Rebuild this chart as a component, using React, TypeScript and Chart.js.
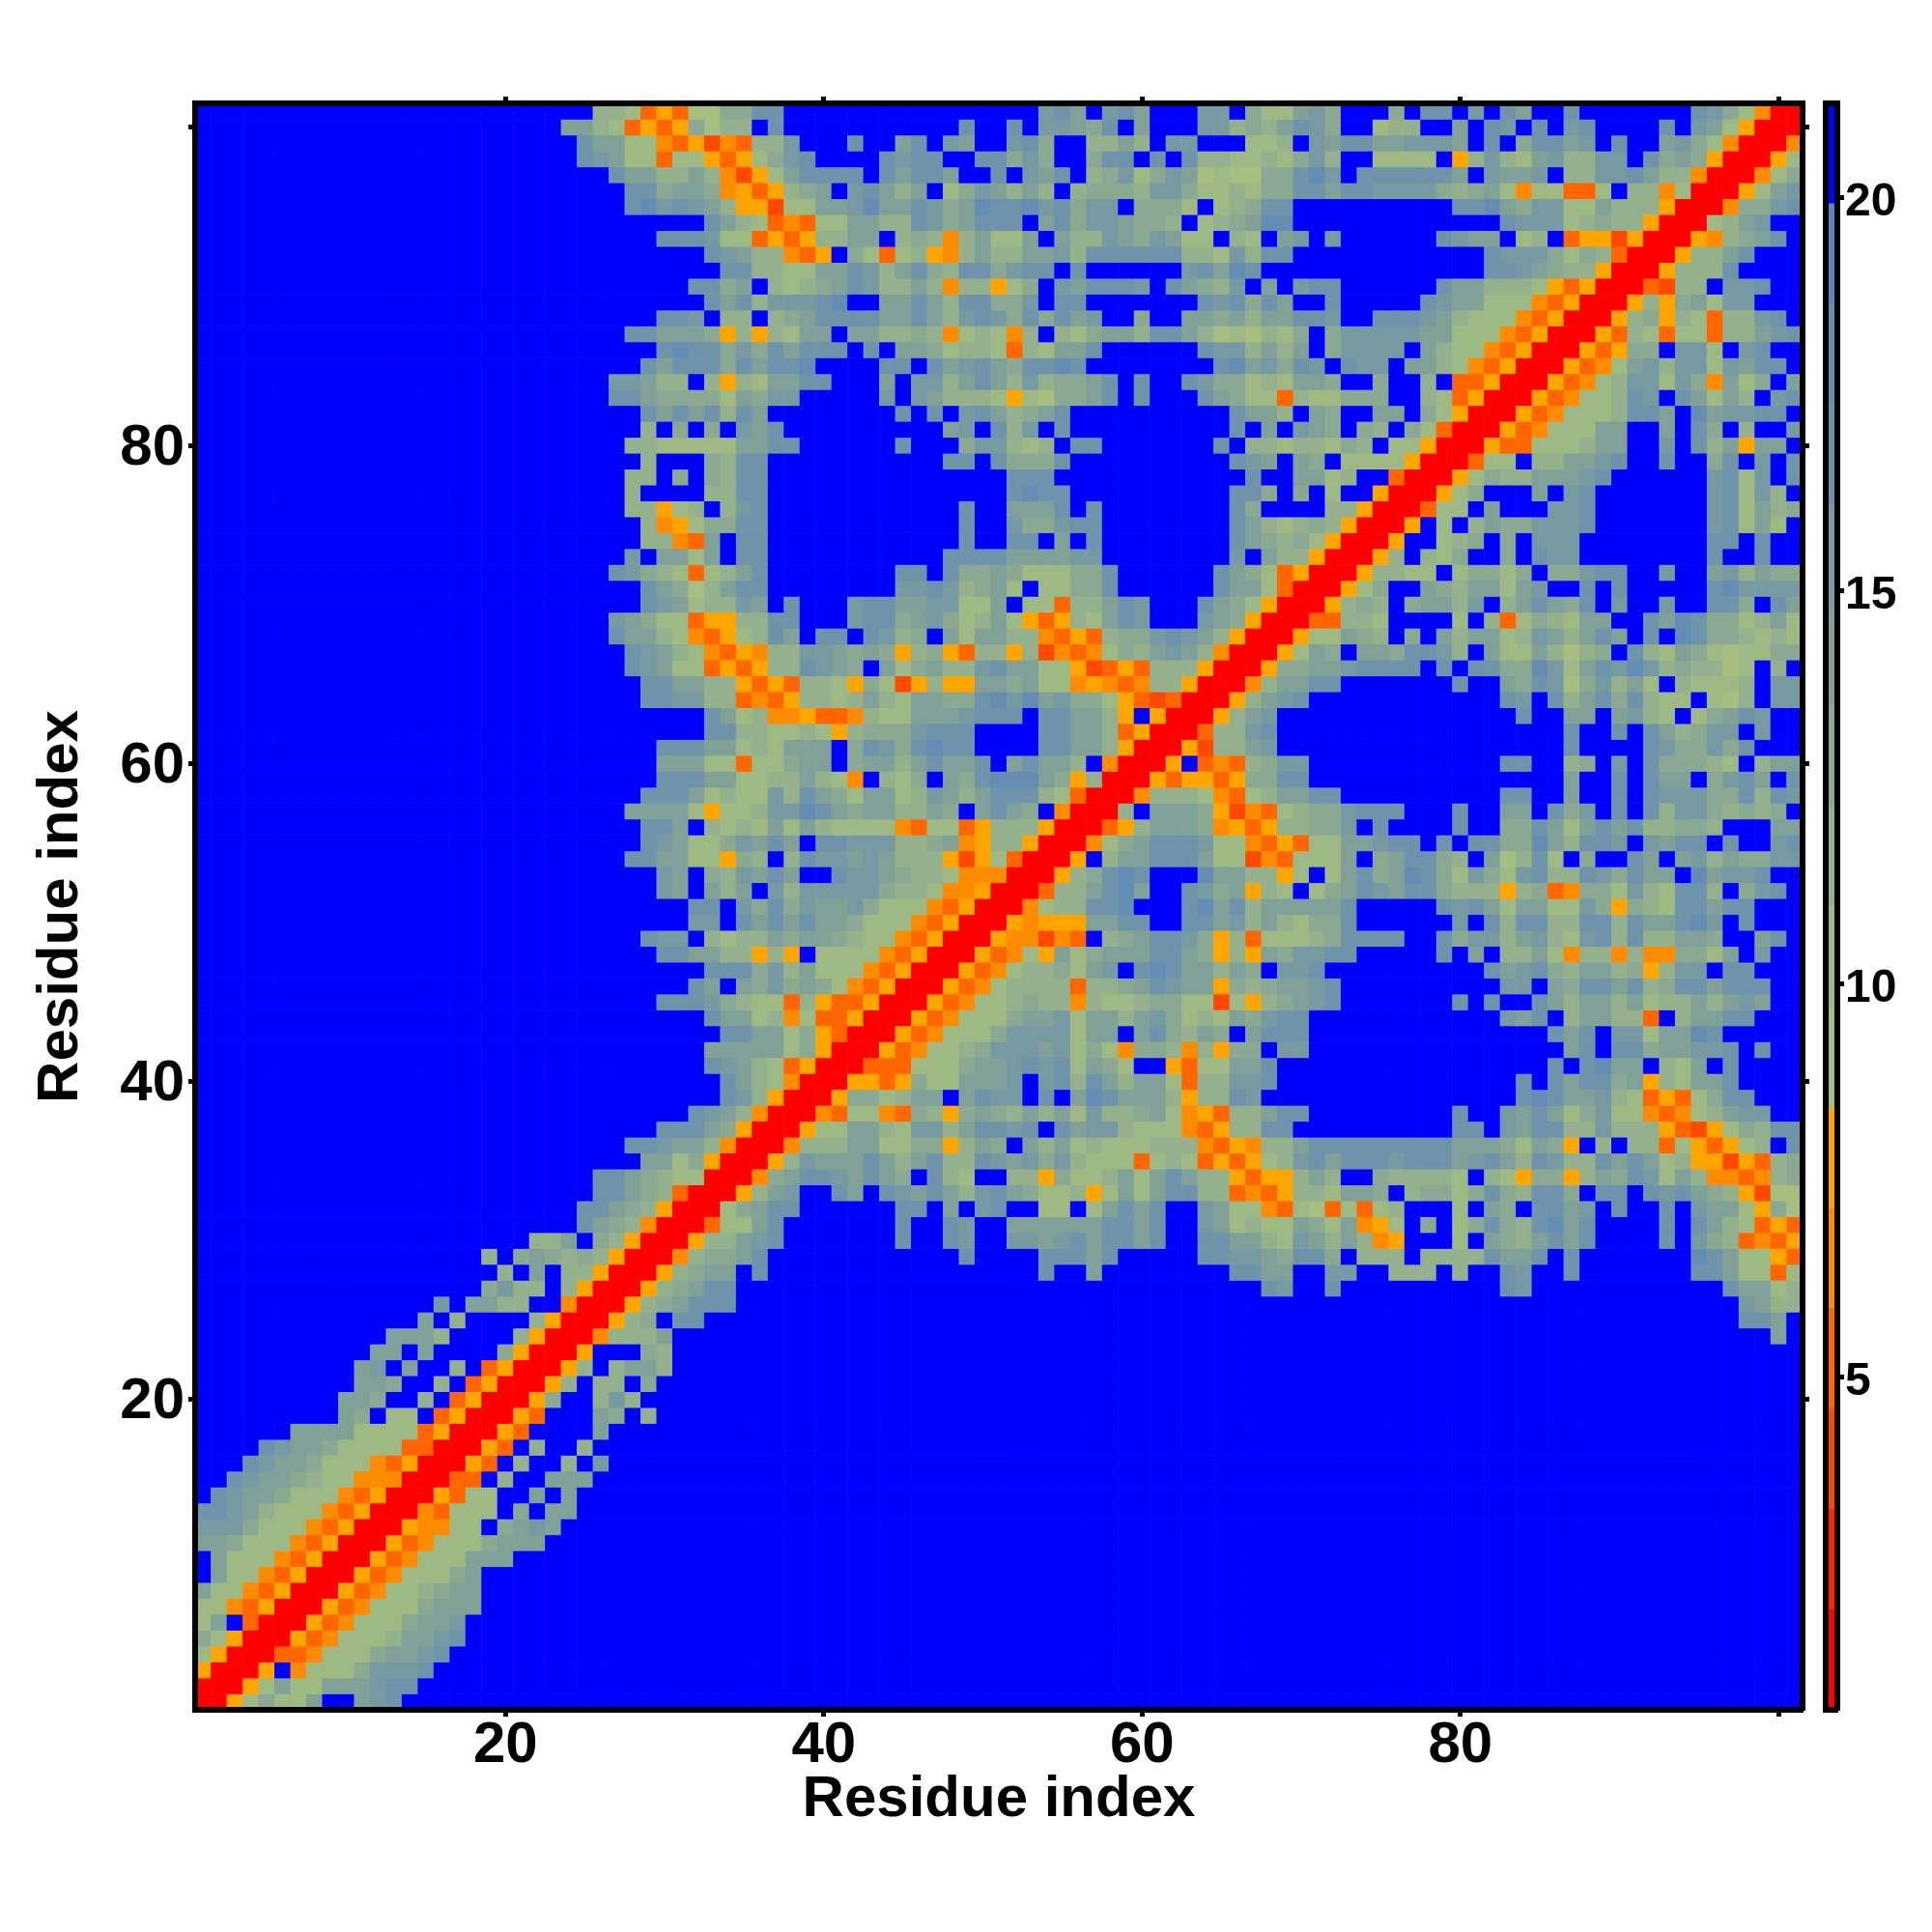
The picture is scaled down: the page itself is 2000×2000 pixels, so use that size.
import React, { useEffect, useRef } from "react";
import { Chart, registerables } from "chart.js";

Chart.register(...registerables);

// Distance-map cells as hex colour-level digits (0 = closest ... f = beyond the last band).
// Each block gives rows from the top row down, starting at a given residue column.
// The map is symmetric, so only the cells with column <= row are kept.
const blockF_col1_row31 = [
  "ffffffffff ffffffffff ffffcb9840 0",
  "ffffffffff ffffffffff f88af98500 0",
  "ffffffffff ffffffff8f 9a98885000 4",
  "ffffffffff fffffffff8 faf8850005 8",
  "ffffffffff ffffffff9b 88f8500058 a",
  "ffffffffff fffffbfaa8 8ff400058a b",
  "ffffffffff ffffaf8fff f85000588f c",
  "ffffffffff ffaaa8ffff 850004898a f",
  "ffffffffff faafaffff9 50005fff98 f",
  "ffffffffff abfaff8f35 00058f8aa8 f",
  "ffffffffff aa9ff8f350 0058f88f9f f",
  "fffffffffa a9ff8f3500 059ff8a8ff f",
  "fffffffffa 9f77f35000 53fffa9f8f f",
  "ffffffaaaa 7777350005 3ffffaffff f",
  "ffffcbaa97 7773300053 f8ff8fffff f",
  "fffcbaa977 743500053f 8ff8faffff f",
  "ffcbaa9877 44400033f8 ffaaafffff f",
  "fcbaa97774 350005377f f8faffffff f",
  "ccba877743 500043777f 8fabffffff f",
  "bbb9777435 00054477f9 aabfffffff f",
  "aa97774350 005347778a abffffffff f",
  "fa77743500 05347779aa ffffffffff f",
  "fa77435000 5347778aff ffffffffff f",
  "a774350005 347789aaff ffffffffff f",
  "7743500053 4777aaabff ffffffffff f",
  "7af3000534 777aabcfff ffffffffff f",
  "9750005347 779aabdfff ffffffffff f",
  "7500033477 79aacdffff ffffffffff f",
  "50005f4777 9aabdfffff ffffffffff f",
  "00057977aa bbcdffffff ffffffffff f",
  "0057977aff bcdfffffff ffffffffff f",
];

const blockA_col25_row101 = [
  "f887353669 9ccfffffff fffffffffb c",
  "a873535968 8fcfffffff ffffcffcfb b",
  "caa7743524 388bfffcff acfbaffbc9 f",
  "cba7737753 579bcffffc bccffcc9b9 f",
  "ffcaa88a84 257accccfc accaffcfba c",
  "fffcc9aa94 53589afbca 8af79ba8a8 f",
  "fffcdbcba8 55277aabda acb9adccdb c",
  "ffffffffca 8734377aa8 8cb9acccfa c",
  "fffffcccb7 7353588aaf 89848a77af a",
  "ffffffffcb a88435f973 78548a88aa b",
  "fffffffffc c8877aacb8 ac98cc9bcc f",
  "fffffffcc9 af8789acb8 8a8488579f b",
  "ffffffffca c8bbbcdffa aca8cc99bf c",
  "fffffccbf8 8f89acccca aca8bcb9c9 c",
  "fffccaaa95 8587aafaa8 898478748f 8",
  "fffffcdcc9 b9cacccfcf aa97887387 a",
  "ffffcaccc9 caccdffffc cfcabca9cc d",
  "ffbba88f85 87aaccfffa fbb8aca8b8 9",
  "ffcca99997 a9bbfffffb fba8887576 9",
  "ffffcacac8 caffffffff cfcfbca89a c",
  "ffff8f9f9f bacfffffff fffabfc8bf c",
  "fff8877777 aaccffffff cfff9bb878 f",
  "ffff8fff98 ccffffffff fffccfc999 c",
  "fff88f9f98 ccffffffff fffffffccc f",
  "fff8ffff88 ccffffffff fffffffcdc c",
  "fff88578f8 bcffffffff ffffcffaaa c",
  "ffff845799 ccffffffff ffffcffb99 b",
  "ffff8843af ccffffffff ffffcffccf a",
  "fffbfaa7af ccffffffff fffccccaaa a",
  "ffcb987378 acffffffff ccfc99a977 7",
  "ffffca968a ccffffffff bbcb89a7f7 7",
];

const blockB_col56_row101 = [
  "afbcafffbb f977ab9fff 9fccfbfcaf f",
  "a9cfafffbb 898acb9ff7 88ffafcbfc f",
  "f88a8fbbff f778fbacca abbbafcf9c c",
  "f9ccfcfc88 77879b8ff7 777f58b87a b",
  "f89b79ba67 6699cdbfcc ccccafbaab f",
  "89998bb977 8799ccaccb bbb989a747 7",
  "9bbf9997f7 89ccffffff ffffccda9b b",
  "9bba998f78 9addffffff fffffffcbb b",
  "88ba9ba77f 87fabfbfff fffcbaaf78 f",
  "8cccccc887 b8ccffffff ffffffcbbb 9",
  "cffffffbca dcffffffff ffffffccba 9",
  "acccbfca98 bfafbccfff fffcaa8887 5",
  "cfffffffcb c9caffcfff ffcbaa7774 3",
  "abff9ffaa9 a8aaccbffc ccba877743 5",
  "79aa8cca86 76879f9bbb bbaa777435 0",
  "acffffffcb b8a8af9bbb bfa8774350 0",
  "cffffffffc dab9cbfcbb faa8743500 0",
  "9acfcffcb9 9787aa9ff9 ff8f335000 5",
  "9acfcfffca 9773877999 ff87350005 3",
  "ffffffffff caa8fa9ffa af97500053 4",
  "ffffffffff cfafba9f98 f973000534 7",
  "ccfffffffc f88788798f 7750005337 7",
  "ffffffffff cbafa9f777 75000377f8 9",
  "ffffffffff fcffaa78ff 300057988a a",
  "ffffffffff cc9f9f7ff5 00058afff9 f",
  "fcffffffff c9ffff8850 00377fafff c",
  "ccffffffff ca87898500 05f7f8a88b b",
  "fcffffffff ca98975000 5ff779fbfc c",
  "bbffffffff bfa8850005 7f78affafc c",
  "99cffffffc a973500058 888f7aa8af a",
  "99cffffffc aa73000588 ff999aaaab f",
];

const blockC_col87_row101 = [
  "cfffffffcb97400",
  "bcffffcfba75000",
  "abfcffab9740004",
  "88bbfc9a9500057",
  "88bbca88400048a",
  "337f884700057ac",
  "77a8885000489bc",
  "78988500079abff",
  "355250005499acf",
  "7983000588adfff",
  "8850005899cffff",
  "350003288fabcff",
  "50005859a8abfff",
  "000589598388bcf",
  "005388388388bcc",
];

const blockD_col25_row70 = [
  "ffffcba788 bafcfffbcc aabb77af77 3",
  "ffba977355 88ccfffbcc 9ab978a753 5",
  "ffcaa87435 78cafccfcb 89fa7aa884 3",
  "fffcba8743 5488bba9a9 5895388582 4",
  "fffcba7735 3588cba9fa 79a88bcaa7 7",
  "ffffccaa88 5353887597 25855aa9a7 7",
  "ffffccbb88 34358878a8 7aa99cdbda b",
  "ffffffffca 7844533487 7aaabcccfc c",
  "ffffffffcc 8877875899 9bcccffffc c",
  "fffffcccaa 787aaaf9cb 9cdccffffc c",
  "fffffaaa77 3779aaf9aa 8acaacfaca a",
  "fffffcccaa 7788a874f8 79fa9cddda 9",
  "ffffccca78 77b8ca97aa 78ba8accc8 7",
  "fffaaaa757 78bbdca9aa 88a9faca9f 4",
  "ffffccaf87 87a7a87777 4377358885 0",
  "ffffcba779 bacafccbbb 889a458850 0",
  "fffccaa775 98f8cbbaba 8885257300 0",
  "fffffbaf98 bacaffcbba 9887444000 5",
  "fffffbafa8 afb8bbbbb9 8874450003 8",
  "fffffffccf b9c9baab97 7743500047 9",
  "fffffffbbf cacacaa977 7435000545 5",
  "ffffcbbf87 88a9aa9877 4350005442 4",
  "fffffccaa8 8585f77774 3500053485 8",
  "ffffffffcc c9b8a77743 5000534888 a",
  "fffffffcaf a9b9a97435 0005348888 8",
  "fffffcccb9 8773853350 0053488897 8",
  "ffffffffca a784733500 05347779ab b",
  "fffffffffc caa7953000 5347779bcb b",
  "ffffffffaa aaa7950005 347779bbcb b",
  "ffffffffcb a873500033 377889acdb b",
  "fffffffffc a874000553 5878aaacfa c",
];

const blockE_col56_row70 = [
  "88acbfffca97500",
  "87acbfffba95000",
  "53899bcba850005",
  "34798aba8400058",
  "523538885000589",
  "4543488500048aa",
  "997532300058acc",
  "aa85f500058acff",
  "aa835000388acff",
  "aa850005288acff",
  "8f40005f3438abb",
  "580005355359acc",
  "3000488974388ab",
  "0007faaa9524388",
  "00357aaa9453588",
];

const blockG_col25_row39 = [
  "fffffffffcb85000",
  "fffffffcba840004",
  "fffffccca9500058",
  "fffccbaa84000489",
  "ffffaa79500057ab",
  "fcca9877000488cc",
  "fcca98300058abff",
  "cca98500079accff",
  "ca984000377acfff",
  "f985000589abcfff",
  "9850004899acffff",
  "85000589aafcffff",
  "5000589accffffff",
  "000589acccffffff",
  "00588fccffffffff",
  "04898affffffffff",
];

const blockH_col24_row100 = ["a"];

const RESIDUES = 101;
const BAR_MIN = 0.77;
const BAR_MAX = 21.2;
const levelColors = [
  "#ff0000", "#ff2500", "#ff4800", "#ff6600", "#ff8c00", "#ffa500",
  "#a6bf80", "#9fb985", "#95b08c", "#8ba892", "#80a098",
  "#779aa2", "#6e93aa", "#658cb2", "#5b85ba", "#0000ff",
];
const levelEdges = levelColors.map((_, i) => BAR_MIN + (i * (BAR_MAX - BAR_MIN)) / levelColors.length);
const levelStep = (BAR_MAX - BAR_MIN) / levelColors.length;

const mainTicks = [20, 40, 60, 80, 100];
const barTicks = [5, 10, 15, 20];
const AXIS_TITLE = "Residue index";
const FONT = "'Liberation Sans', Arial, sans-serif";

const blocks: [string[], number, number][] = [
  [blockF_col1_row31, 1, 31],
  [blockA_col25_row101, 25, 101],
  [blockB_col56_row101, 56, 101],
  [blockC_col87_row101, 87, 101],
  [blockD_col25_row70, 25, 70],
  [blockE_col56_row70, 56, 70],
  [blockG_col25_row39, 25, 39],
  [blockH_col24_row100, 24, 100],
];

function buildCells() {
  const grid: number[][] = [];
  for (let i = 0; i <= RESIDUES; i++) grid.push(new Array(RESIDUES + 1).fill(15));
  for (const [rows, col, top] of blocks) {
    rows.forEach((raw, r) => {
      const row = top - r;
      raw.replace(/\s/g, "").split("").forEach((ch, k) => {
        const c = col + k;
        if (c <= row && c <= RESIDUES) {
          const lvl = parseInt(ch, 16);
          grid[row][c] = lvl;
          grid[c][row] = lvl;
        }
      });
    });
  }
  const pts: { x: number; y: number; v: number }[] = [];
  const colors: string[] = [];
  for (let y = 1; y <= RESIDUES; y++) {
    for (let x = 1; x <= RESIDUES; x++) {
      const lvl = grid[y][x];
      pts.push({ x, y, v: levelEdges[lvl] + levelStep / 2 });
      colors.push(levelColors[lvl]);
    }
  }
  return { pts, colors };
}

const setTicks = (list: number[]) => (s: any) => {
  s.ticks = list.map((value) => ({ value }));
};
const fixW = (w: number) => (s: any) => {
  s.width = w;
};
const fixH = (h: number) => (s: any) => {
  s.height = h;
};

export default function App() {
  const mainRef = useRef<HTMLCanvasElement>(null);
  const barRef = useRef<HTMLCanvasElement>(null);

  useEffect(() => {
    const { pts, colors } = buildCells();
    const axisCommon = {
      type: "linear" as const,
      min: 0.5,
      max: 101.5,
      afterBuildTicks: setTicks(mainTicks),
      border: { display: true, color: "#000", width: 6, z: 3 },
    };
    const grid = { drawOnChartArea: false, drawTicks: true, tickLength: 7, tickWidth: 5, tickColor: "#000" };
    const tickFont = { family: FONT, size: 60, weight: "bold" as const };
    const main = new Chart(mainRef.current!, {
      type: "scatter",
      data: {
        datasets: [
          {
            data: pts as any,
            pointStyle: "rect",
            pointRadius: 12.1,
            pointBorderWidth: 0,
            pointBackgroundColor: colors,
          },
        ],
      },
      options: {
        animation: false,
        responsive: false,
        devicePixelRatio: 1,
        events: [],
        layout: { padding: 0 },
        plugins: { legend: { display: false }, tooltip: { enabled: false } },
        scales: {
          x: {
            ...axisCommon,
            position: "bottom",
            afterFit: fixH(230),
            grid,
            ticks: {
              color: "#000",
              font: tickFont,
              padding: -6,
              maxRotation: 0,
              autoSkip: false,
              callback: (v: any) => (v === 100 ? "" : String(v)),
            },
            title: {
              display: true,
              text: AXIS_TITLE,
              color: "#000",
              font: tickFont,
              padding: { top: 0, bottom: 101 },
            },
          },
          xTop: {
            ...axisCommon,
            axis: "x",
            position: "top",
            afterFit: fixH(107),
            grid,
            ticks: { display: false },
          },
          y: {
            ...axisCommon,
            position: "left",
            afterFit: fixW(202),
            grid,
            ticks: {
              color: "#000",
              font: tickFont,
              padding: 4,
              labelOffset: 3,
              autoSkip: false,
              callback: (v: any) => (v === 100 ? "" : String(v)),
            },
            title: {
              display: true,
              text: AXIS_TITLE,
              color: "#000",
              font: tickFont,
              padding: { top: 27, bottom: 0 },
            },
          },
          yRight: {
            ...axisCommon,
            axis: "y",
            position: "right",
            afterFit: fixW(134),
            grid,
            ticks: { display: false },
          },
        } as any,
      },
    });

    const bar = new Chart(barRef.current!, {
      type: "bar",
      data: {
        labels: [""],
        datasets: levelColors.map((c, i) => ({
          data: [[levelEdges[i], levelEdges[i] + levelStep]] as any,
          backgroundColor: c,
          borderWidth: 0,
          barPercentage: 1,
          categoryPercentage: 1,
        })),
      },
      options: {
        animation: false,
        responsive: false,
        devicePixelRatio: 1,
        events: [],
        layout: { padding: 0 },
        plugins: { legend: { display: false }, tooltip: { enabled: false } },
        scales: {
          x: {
            stacked: true,
            position: "bottom",
            afterFit: fixH(230),
            grid: { display: false },
            ticks: { display: false },
            border: { display: true, color: "#000", width: 6, z: 3 },
          },
          xTop: {
            type: "linear",
            axis: "x",
            position: "top",
            min: 0,
            max: 1,
            afterFit: fixH(107),
            grid: { display: false },
            ticks: { display: false },
            border: { display: true, color: "#000", width: 6, z: 3 },
          },
          yLeft: {
            type: "linear",
            axis: "y",
            position: "left",
            min: BAR_MIN,
            max: BAR_MAX,
            afterFit: fixW(30),
            grid: { display: false },
            ticks: { display: false },
            border: { display: true, color: "#000", width: 6, z: 3 },
          },
          y: {
            type: "linear",
            position: "right",
            min: BAR_MIN,
            max: BAR_MAX,
            afterBuildTicks: setTicks(barTicks),
            afterFit: fixW(98),
            grid: { drawOnChartArea: false, drawTicks: true, tickLength: 7, tickWidth: 5, tickColor: "#000" },
            ticks: {
              color: "#000",
              font: { family: FONT, size: 48, weight: "bold" },
              padding: 1,
              labelOffset: 5,
              autoSkip: false,
            },
            border: { display: true, color: "#000", width: 6, z: 3 },
          },
        } as any,
      },
    });

    return () => {
      main.destroy();
      bar.destroy();
    };
  }, []);

  return (
    <div style={{ position: "absolute", left: 0, top: 0, width: 2000, height: 2000, background: "#fff" }}>
      <canvas ref={mainRef} width={2000} height={2000} style={{ position: "absolute", left: 0, top: 0 }} />
      <canvas ref={barRef} width={140} height={2000} style={{ position: "absolute", left: 1860, top: 0 }} />
    </div>
  );
}
